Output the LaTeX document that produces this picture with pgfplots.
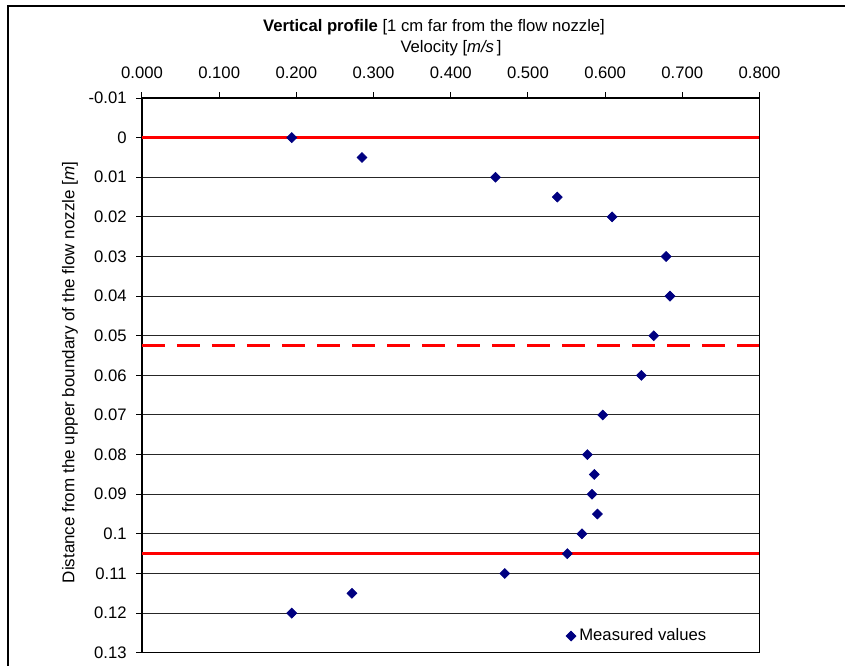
\documentclass[border=0pt]{standalone}
\usepackage{pgfplots}
\pgfplotsset{compat=1.18}
\usepackage{fontspec}
\setmainfont{Liberation Sans}
\definecolor{navy}{RGB}{0,0,128}
\definecolor{redline}{RGB}{255,0,0}
\begin{document}
\fontsize{10}{12}\selectfont
\begin{tikzpicture}
\useasboundingbox (0,0) rectangle (507pt,-399.6pt);
\draw[black, line width=0.8pt] (4.8pt,-400pt) -- (4.8pt,-3.6pt) -- (508pt,-3.6pt);
\node at (260.4pt,-16.3pt) {\fontsize{10}{12}\selectfont\textbf{Vertical profile} [1 cm far from the flow nozzle]};
\node at (270.6pt,-29pt) {\fontsize{10}{12}\selectfont Velocity [\textit{m/s}\,]};
\node[rotate=90] at (42pt,-223.5pt) {\fontsize{10.2}{12}\selectfont Distance from the upper boundary of the flow nozzle [\textit{m}]};
\begin{axis}[
  at={(85.2pt,-391.62pt)}, anchor=south west,
  scale only axis, width=370.5pt, height=332.82pt,
  xmin=0, xmax=0.8, ymin=-0.01, ymax=0.13,
  y dir=reverse,
  xtick={0,0.1,0.2,0.3,0.4,0.5,0.6,0.7,0.8},
  xticklabels={0.000,0.100,0.200,0.300,0.400,0.500,0.600,0.700,0.800},
  ytick={-0.01,0,0.01,0.02,0.03,0.04,0.05,0.06,0.07,0.08,0.09,0.1,0.11,0.12,0.13},
  yticklabels={-0.01,0,0.01,0.02,0.03,0.04,0.05,0.06,0.07,0.08,0.09,0.1,0.11,0.12,0.13},
  xtick pos=right, xticklabel pos=right, ytick pos=left,
  tick align=outside,
  major tick length=3.5pt,
  tick style={black, line width=0.6pt},
  /pgf/number format/assume math mode=true,
  xticklabel style={anchor=south, inner sep=0pt, yshift=7.7pt, font=\fontsize{10}{12}\selectfont},
  yticklabel style={anchor=east, inner sep=0pt, xshift=-5.5pt, font=\fontsize{10}{12}\selectfont},
  ymajorgrids,
  major grid style={black!85, line width=0.6pt},
  axis line style={black, line width=0.7pt},
  legend style={at={(0.803,0.030)}, anchor=center, draw=none, fill=none,
    font=\fontsize{10}{12}\selectfont, inner sep=1pt},
  legend cell align=left,
]
\addplot[redline, line width=2.2pt, forget plot] coordinates {(0,0) (0.8,0)};
\addplot[redline, line width=2.2pt, forget plot] coordinates {(0,0.105) (0.8,0.105)};
\addplot[redline, line width=2.2pt, dash pattern=on 14pt off 7pt, forget plot] coordinates {(0,0.0525) (0.8,0.0525)};
\addplot[only marks, mark=square*, mark size=2.1pt, mark options={rotate=45, fill=navy, draw=navy}, navy]
coordinates {
(0.194,0) (0.285,0.005) (0.458,0.01) (0.538,0.015) (0.609,0.02)
(0.679,0.03) (0.684,0.04) (0.663,0.05) (0.647,0.06) (0.597,0.07)
(0.577,0.08) (0.586,0.085) (0.583,0.09) (0.590,0.095) (0.570,0.1)
(0.551,0.105) (0.470,0.11) (0.272,0.115) (0.194,0.12)
};
\addlegendentry{Measured values}
\end{axis}
\end{tikzpicture}
\end{document}
